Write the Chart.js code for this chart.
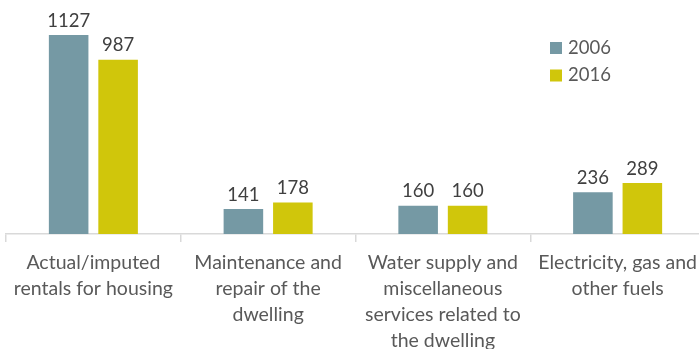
<!DOCTYPE html>
<html>
<head>
<meta charset="utf-8">
<script src="https://cdn.jsdelivr.net/npm/chart.js@4/dist/chart.umd.min.js"></script>
<style>
  html, body { margin: 0; padding: 0; background: #fff; overflow: hidden; }
  #wrap { width: 705px; height: 349px; }
</style>
</head>
<body>
<div id="wrap"><canvas id="chart" width="705" height="349"></canvas></div>
<script>
// --- DATA ---
const categories = [
    ['Actual/imputed', 'rentals for housing'],
    ['Maintenance and', 'repair of the', 'dwelling'],
    ['Water supply and', 'miscellaneous', 'services related to', 'the dwelling'],
    ['Electricity, gas and', 'other fuels']
];
const seriesNames = ['2006', '2016'];
const values2006 = [1127, 141, 160, 236];
const values2016 = [987, 178, 160, 289];

const colors = ['#7599a4', '#d0c60b'];
const fontFamily = 'Lato, "Open Sans", sans-serif';

// value labels above each bar
const valueLabels = {
    id: 'valueLabels',
    afterDatasetsDraw(chart) {
        const ctx = chart.ctx;
        ctx.save();
        ctx.font = '18.5px ' + fontFamily;
        ctx.fillStyle = '#404040';
        ctx.textAlign = 'center';
        ctx.textBaseline = 'bottom';
        chart.data.datasets.forEach((ds, i) => {
            chart.getDatasetMeta(i).data.forEach((bar, j) => {
                ctx.fillText(ds.data[j], bar.x, bar.y - 5);
            });
        });
        ctx.restore();
    }
};

// legend drawn in the top right, stacked
const sideLegend = {
    id: 'sideLegend',
    afterDraw(chart) {
        const ctx = chart.ctx;
        ctx.save();
        ctx.font = '18.5px ' + fontFamily;
        ctx.textBaseline = 'middle';
        chart.data.datasets.forEach((ds, i) => {
            const y = 48 + i * 27.5;
            ctx.fillStyle = ds.backgroundColor;
            ctx.fillRect(550, y - 6, 12, 12);
            ctx.fillStyle = '#595959';
            ctx.fillText(ds.label, 568, y);
        });
        ctx.restore();
    }
};

new Chart(document.getElementById('chart'), {
    type: 'bar',
    data: {
        labels: categories,
        datasets: [
            { label: seriesNames[0], data: values2006, backgroundColor: colors[0] },
            { label: seriesNames[1], data: values2016, backgroundColor: colors[1] }
        ]
    },
    options: {
        responsive: false,
        animation: false,
        layout: { padding: { left: 6, right: 0, top: 0, bottom: 0 } },
        categoryPercentage: 0.566,
        barPercentage: 0.8,
        plugins: { legend: { display: false }, tooltip: { enabled: false } },
        scales: {
            x: {
                offset: true,
                afterFit(scale) { scale.height = 115; },
                grid: {
                    offset: true,
                    drawOnChartArea: false,
                    drawTicks: true,
                    tickLength: 8,
                    color: '#d9d9d9',
                    lineWidth: 1.5
                },
                border: { display: true, color: '#d9d9d9', width: 1.5 },
                ticks: {
                    autoSkip: false,
                    maxRotation: 0,
                    padding: 8,
                    color: '#595959',
                    font: { family: fontFamily, size: 19.5, lineHeight: 1.33 }
                }
            },
            y: {
                display: false,
                min: 0,
                max: 1325
            }
        }
    },
    plugins: [valueLabels, sideLegend]
});
</script>
</body>
</html>
